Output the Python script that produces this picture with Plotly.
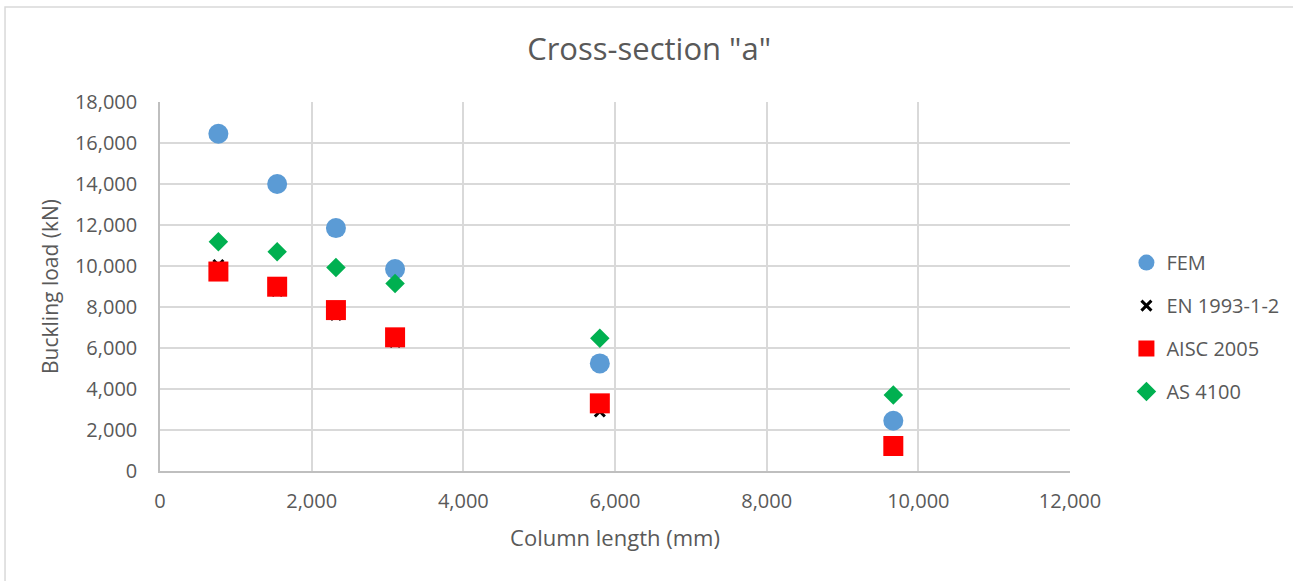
import plotly.graph_objects as go

# Column lengths (mm)
column_length = [770, 1545, 2320, 3100, 5800, 9670]

# Buckling loads (kN) per method
fem = [16450, 14000, 11850, 9850, 5250, 2450]
en_1993 = [10050, 8780, 7610, 6290, 2900, 1150]
aisc_2005 = [9730, 8990, 7850, 6520, 3300, 1220]
as_4100 = [11180, 10700, 9930, 9150, 6470, 3710]

x_ticks = [0, 2000, 4000, 6000, 8000, 10000, 12000]
y_ticks = [0, 2000, 4000, 6000, 8000, 10000, 12000, 14000, 16000, 18000]

FONT = "Open Sans"
TEXT = "#595959"

fig = go.Figure()
fig.add_trace(go.Scatter(
    x=column_length, y=fem, mode="markers", name="FEM", legendgroup="a",
    marker=dict(symbol="circle", size=20, color="#5b9bd5"),
))
fig.add_trace(go.Scatter(
    x=column_length, y=en_1993, mode="markers", name="EN 1993-1-2", legendgroup="b",
    marker=dict(symbol="x-thin", size=10, color="black", line=dict(color="black", width=3)),
))
fig.add_trace(go.Scatter(
    x=column_length, y=aisc_2005, mode="markers", name="AISC 2005", legendgroup="c",
    marker=dict(symbol="square", size=20, color="#ff0000"),
))
fig.add_trace(go.Scatter(
    x=column_length, y=as_4100, mode="markers", name="AS 4100", legendgroup="d",
    marker=dict(symbol="diamond", size=15, color="#00b050"),
))

# outer chart frame
fig.add_shape(type="rect", xref="paper", yref="paper",
              x0=-0.1703, x1=1.4, y0=-0.4, y1=1.2575,
              line=dict(color="#d9d9d9", width=1.5), fillcolor="rgba(0,0,0,0)", layer="below")

fig.update_layout(
    width=1293, height=581,
    margin=dict(l=160, r=223, t=102, b=110, autoexpand=False),
    paper_bgcolor="white", plot_bgcolor="white",
    font=dict(family=FONT, color=TEXT, size=20),
    title=dict(text='Cross-section "a"', x=0.502, xanchor="center", y=0.915, yanchor="middle",
               font=dict(size=31, color=TEXT, family=FONT)),
    showlegend=True,
    legend=dict(x=1.062, xanchor="left", y=0.39, yanchor="middle",
                font=dict(size=20, color=TEXT, family=FONT),
                traceorder="grouped", tracegroupgap=14, itemwidth=30,
                bgcolor="rgba(0,0,0,0)"),
    xaxis=dict(
        range=[0, 12000], tickvals=x_ticks, tickformat=",d",
        showgrid=True, gridcolor="#d9d9d9", gridwidth=1.5,
        showline=True, linecolor="#bfbfbf", linewidth=1.5,
        zeroline=False, ticks="", ticklabelstandoff=11,
        tickfont=dict(size=20, color=TEXT, family=FONT),
        title=dict(text="Column length (mm)", standoff=18, font=dict(size=22, color=TEXT, family=FONT)),
    ),
    yaxis=dict(
        range=[0, 18000], tickvals=y_ticks, tickformat=",d",
        showgrid=True, gridcolor="#d9d9d9", gridwidth=1.5,
        showline=True, linecolor="#bfbfbf", linewidth=1.5,
        zeroline=False, ticks="", ticklabelstandoff=17,
        tickfont=dict(size=20, color=TEXT, family=FONT),
        title=dict(text="Buckling load (kN)", standoff=11, font=dict(size=21, color=TEXT, family=FONT)),
    ),
    separators=".,",
)

fig.write_html("out.html")
